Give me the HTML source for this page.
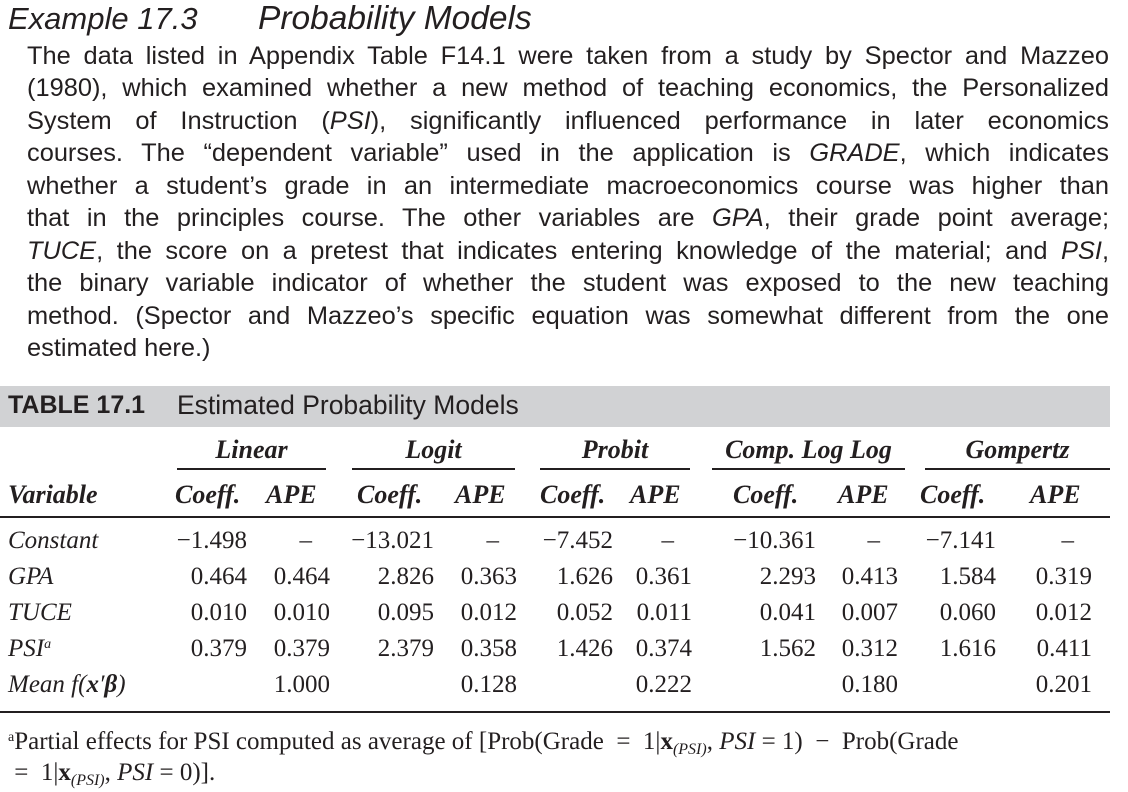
<!DOCTYPE html>
<html><head><meta charset="utf-8"><style>
body{margin:0;width:1128px;height:792px;background:#fff;position:relative;overflow:hidden;color:#231f20}
.a{position:absolute;white-space:nowrap}
.s{font-family:"Liberation Sans",sans-serif}
.t{font-family:"Liberation Serif",serif}
.p{position:absolute;left:27px;width:1082px;font-family:"Liberation Sans",sans-serif;font-size:25.4px;text-align:justify;text-align-last:justify;white-space:nowrap;line-height:30px}
.r{position:absolute;text-align:right;font-family:"Liberation Serif",serif;font-size:25px}
.h{position:absolute;text-align:center;font-family:"Liberation Serif",serif;font-size:26px;font-style:italic;font-weight:bold}
.ln{position:absolute;height:2px;background:#231f20}
.v{position:absolute;left:8px;font-family:"Liberation Serif",serif;font-style:italic;font-size:25px}
</style></head><body>
<div class="a s" style="left:8px;top:1px;font-size:31px;font-style:italic">Example 17.3</div>
<div class="a s" style="left:258px;top:0px;font-size:33.5px;font-style:italic">Probability Models</div>
<div>
<div class="p" style="top:41px">The data listed in Appendix Table F14.1 were taken from a study by Spector and Mazzeo</div>
<div class="p" style="top:73px">(1980), which examined whether a new method of teaching economics, the Personalized</div>
<div class="p" style="top:106px">System of Instruction (<i>PSI</i>), significantly influenced performance in later economics</div>
<div class="p" style="top:138px">courses. The “dependent variable” used in the application is <i>GRADE</i>, which indicates</div>
<div class="p" style="top:171px">whether a student’s grade in an intermediate macroeconomics course was higher than</div>
<div class="p" style="top:203px">that in the principles course. The other variables are <i>GPA</i>, their grade point average;</div>
<div class="p" style="top:236px"><i>TUCE</i>, the score on a pretest that indicates entering knowledge of the material; and <i>PSI</i>,</div>
<div class="p" style="top:268px">the binary variable indicator of whether the student was exposed to the new teaching</div>
<div class="p" style="top:301px">method. (Spector and Mazzeo’s specific equation was somewhat different from the one</div>
<div class="p" style="top:333px;text-align-last:left">estimated here.)</div>
</div>
<div style="position:absolute;left:0;top:386px;width:1110px;height:41px;background:#d1d2d4"></div>
<div class="a s" style="left:8px;top:391px;font-size:25px;font-weight:bold">TABLE 17.1</div>
<div class="a s" style="left:177px;top:390px;font-size:26.5px">Estimated Probability Models</div>
<div>
<div class="h" style="left:177px;width:149px;top:435px">Linear</div>
<div class="h" style="left:352px;width:163px;top:435px">Logit</div>
<div class="h" style="left:540px;width:150px;top:435px">Probit</div>
<div class="h" style="left:712px;width:193px;top:435px">Comp. Log Log</div>
<div class="h" style="left:925px;width:185px;top:435px">Gompertz</div>
<div class="ln" style="left:177px;width:149px;top:468px"></div>
<div class="ln" style="left:352px;width:163px;top:468px"></div>
<div class="ln" style="left:540px;width:150px;top:468px"></div>
<div class="ln" style="left:712px;width:193px;top:468px"></div>
<div class="ln" style="left:925px;width:185px;top:468px"></div>
</div>
<div>
<div class="h" style="left:8px;top:480px;text-align:left">Variable</div>
<div class="h" style="left:175px;top:480px">Coeff.</div><div class="h" style="left:266px;top:480px">APE</div>
<div class="h" style="left:357px;top:480px">Coeff.</div><div class="h" style="left:455px;top:480px">APE</div>
<div class="h" style="left:540px;top:480px">Coeff.</div><div class="h" style="left:630px;top:480px">APE</div>
<div class="h" style="left:733px;top:480px">Coeff.</div><div class="h" style="left:838px;top:480px">APE</div>
<div class="h" style="left:920px;top:480px">Coeff.</div><div class="h" style="left:1030px;top:480px">APE</div>
</div>
<div class="ln" style="left:0;width:1110px;top:516px"></div>
<div id="rows"></div>
<div class="ln" style="left:0;width:1110px;top:711px"></div>
<div class="a t" style="left:8px;top:726px;font-size:25px;line-height:31px"><span style="font-size:14px;vertical-align:8px;line-height:0">a</span>Partial effects for PSI computed as average of [Prob(Grade &nbsp;= &nbsp;1|<b>x</b><span style="font-size:16px;vertical-align:-5px;line-height:0"><i>(PSI)</i></span>, <i>PSI</i> = 1) &nbsp;− &nbsp;Prob(Grade<br>&nbsp;= &nbsp;1|<b>x</b><span style="font-size:16px;vertical-align:-5px;line-height:0"><i>(PSI)</i></span>, <i>PSI</i> = 0)].</div>
<script>
const vars=["Constant","GPA","TUCE","PSI<span style='font-size:14px;vertical-align:8px;line-height:0'>a</span>","Mean <i>f</i>(<b>x</b>′<b>β</b>)"];
const linear=[["−1.498","–"],["0.464","0.464"],["0.010","0.010"],["0.379","0.379"],["","1.000"]];
const logit=[["−13.021","–"],["2.826","0.363"],["0.095","0.012"],["2.379","0.358"],["","0.128"]];
const probit=[["−7.452","–"],["1.626","0.361"],["0.052","0.011"],["1.426","0.374"],["","0.222"]];
const cll=[["−10.361","–"],["2.293","0.413"],["0.041","0.007"],["1.562","0.312"],["","0.180"]];
const gomp=[["−7.141","–"],["1.584","0.319"],["0.060","0.012"],["1.616","0.411"],["","0.201"]];
const models=[linear,logit,probit,cll,gomp];
const rights=[[247,330],[434,517],[613,692],[816,898],[996,1092]];
const rows=document.getElementById('rows');
vars.forEach((v,i)=>{
 const y=527+i*36;
 const d=document.createElement('div');d.className='v';d.style.top=y+'px';d.innerHTML=v;
 
 
 rows.appendChild(d);
 models.forEach((m,j)=>{m[i].forEach((val,k)=>{
  const c=document.createElement('div');c.className='r';
  const dash=val==="–";
  c.style.top=y+'px';c.style.right=(1128-rights[j][k]+(dash?18:0))+'px';c.textContent=val;
  
  
  rows.appendChild(c);});});
});
</script>
</body></html>
